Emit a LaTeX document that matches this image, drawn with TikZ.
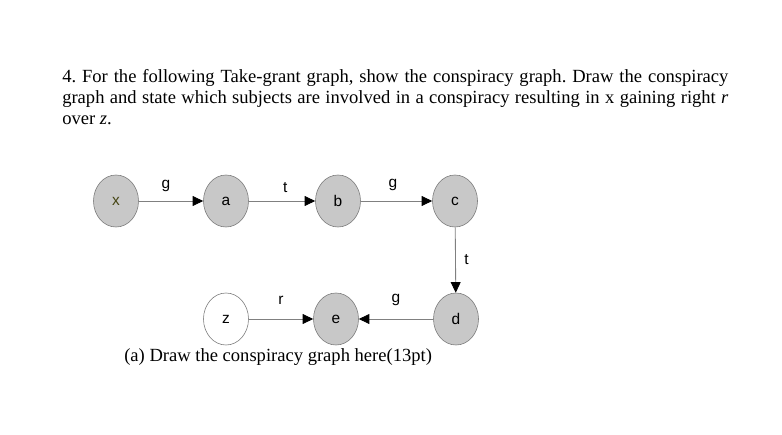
\documentclass[tikz,border=0pt]{standalone}
\usepackage{fontspec}
\setmainfont{Liberation Serif}
\newfontfamily\graphfont{Liberation Sans}
\usepackage{xcolor}
\definecolor{subjgray}{RGB}{200, 200, 200}
\definecolor{rimgray}{RGB}{120, 120, 120}
\definecolor{edgegray}{RGB}{128, 128, 128}
\definecolor{xolive}{RGB}{70, 70, 20}
\usepackage{tikz}
\usetikzlibrary{arrows.meta, positioning, shapes.geometric}
\frenchspacing

\begin{document}
\begin{tikzpicture}[x=0.025cm, y=-0.025cm,
    subj/.style={ellipse, draw=rimgray, fill=subjgray, minimum width=1.125cm,
      minimum height=1.3cm, inner sep=0pt, font=\graphfont\fontsize{11}{13}\selectfont},
    obj/.style={subj, fill=white},
    grant/.style={draw=edgegray, line width=0.6pt,
      -{Triangle[length=7.5pt, width=7pt, color=black]}},
    lbl/.style={font=\graphfont\fontsize{11}{13}\selectfont, inner sep=1pt}]
  % Page
  \useasboundingbox[fill=white] (0,0) rectangle (782,434);

  % Question text
  \node[anchor=north west, inner sep=0pt, text width=16.65cm, align=justify,
    font=\fontsize{13.2}{15}\selectfont] (question) at (62,69)
    {4. For the following Take-grant graph, show the conspiracy graph. Draw the conspiracy\linebreak
     graph and state which subjects are involved in a conspiracy resulting in x gaining right \textit{r}\linebreak
     over \textit{z}.};

  % Vertices
  \node[subj, text=xolive] (x) at (116,201) {x};
  \node[subj] (a) at (226,201) {a};
  \node[subj] (b) at (338,201) {b};
  \node[subj] (c) at (455,201) {c};
  \node[subj] (d) at (456,319) {d};
  \node[subj] (e) at (336,319) {e};
  \node[obj] (z) at (226,319) {z};

  % Rights
  \draw[grant] (x) -- node[lbl, above=5pt, pos=0.42] {g} (a);
  \draw[grant] (a) -- node[lbl, above=5pt, pos=0.55] {t} (b);
  \draw[grant] (b) -- node[lbl, above=6pt, pos=0.45] {g} (c);
  \draw[grant] (c) -- node[lbl, right=5pt] {t} (d);
  \draw[grant] (d) -- node[lbl, above=8pt] {g} (e);
  \draw[grant] (z) -- node[lbl, above=9pt] {r} (e);

  % Caption
  \node[anchor=base west, inner sep=0pt, font=\fontsize{13.2}{15}\selectfont] (caption)
    at (124,361) {(a) Draw the conspiracy graph here(13pt)};
\end{tikzpicture}
\end{document}
